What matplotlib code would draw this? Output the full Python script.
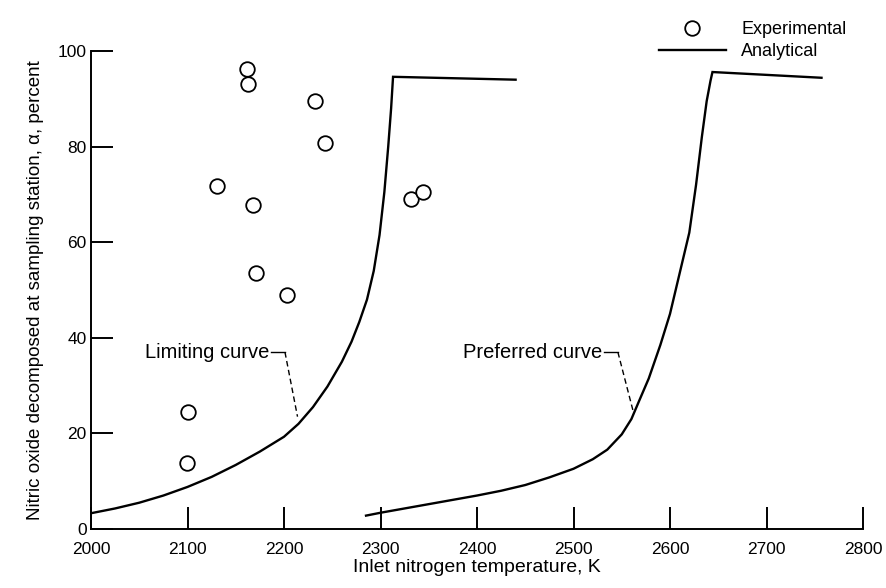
import matplotlib

matplotlib.use("Agg")
import matplotlib.pyplot as plt
from matplotlib.lines import Line2D

# Experimental points: inlet temperature (K) vs NO decomposed (percent)
exp_temp = [2162, 2163, 2131, 2168, 2171, 2203, 2232, 2243, 2332, 2344, 2100, 2099]
exp_alpha = [96.2, 93.1, 71.8, 67.8, 53.6, 49.0, 89.5, 80.8, 69.0, 70.5, 24.5, 13.8]

# Analytical curves
lim_temp = [2000, 2025, 2050, 2075, 2100, 2125, 2150, 2175, 2200, 2215, 2230, 2245,
            2260, 2270, 2278, 2286, 2293, 2299, 2304, 2308, 2311, 2313, 2440]
lim_alpha = [3.3, 4.3, 5.5, 7.0, 8.8, 10.9, 13.4, 16.2, 19.3, 22.0, 25.5, 29.8,
             35.0, 39.2, 43.3, 48.0, 54.0, 61.5, 70.5, 80.0, 88.0, 94.6, 94.0]

pref_temp = [2285, 2300, 2325, 2350, 2375, 2400, 2425, 2450, 2475, 2500, 2520, 2535,
             2550, 2560, 2568, 2578, 2590, 2600, 2610, 2620, 2627, 2633, 2638, 2642,
             2644, 2757]
pref_alpha = [2.8, 3.4, 4.3, 5.2, 6.1, 7.0, 8.0, 9.2, 10.8, 12.6, 14.6, 16.6,
              19.8, 23.0, 26.8, 31.5, 38.5, 45.0, 53.5, 62.0, 72.0, 82.0, 89.5, 93.8,
              95.6, 94.4]

x_ticks = [2000, 2100, 2200, 2300, 2400, 2500, 2600, 2700, 2800]
y_ticks = [0, 20, 40, 60, 80, 100]

TEXT = ["Liberation Sans", "DejaVu Sans"]

fig = plt.figure(figsize=(8.86, 5.88), dpi=100, facecolor="white")
ax = fig.add_axes([91 / 886, 1 - 529 / 588, (863 - 91) / 886, (529 - 51) / 588])

ax.plot(lim_temp, lim_alpha, color="black", lw=1.7, solid_joinstyle="miter")
ax.plot(pref_temp, pref_alpha, color="black", lw=1.7, solid_joinstyle="miter")
ax.plot(exp_temp, exp_alpha, "o", ms=10.5, mfc="white", mec="black", mew=1.3,
        linestyle="none", zorder=3)

ax.set_xlim(2000, 2800)
ax.set_ylim(0, 100)
ax.set_xticks(x_ticks)
ax.set_yticks(y_ticks)
for s in ("top", "right"):
    ax.spines[s].set_visible(False)
for s in ("left", "bottom"):
    ax.spines[s].set_linewidth(1.4)
ax.tick_params(direction="in", length=16, width=1.4, labelsize=12.5)
ax.tick_params(axis="x", pad=9)
ax.tick_params(axis="y", pad=3)
for lab in ax.get_xticklabels() + ax.get_yticklabels():
    lab.set_family(TEXT)

ax.set_xlabel("Inlet nitrogen temperature, K", fontsize=14, family=TEXT, labelpad=2)
ax.set_ylabel("Nitric oxide decomposed at sampling station, \u03b1, percent",
              fontsize=13.5, family=TEXT, labelpad=10)

# curve labels with dashed leaders
ax.text(2185, 37.0, "Limiting curve", fontsize=14.5, family=TEXT, ha="right", va="center")
ax.plot([2187, 2201], [37.0, 37.0], color="black", lw=1.0)
ax.plot([2201, 2214], [37.0, 23.5], color="black", lw=1.0, ls=(0, (4, 2.5)))

ax.text(2530, 37.0, "Preferred curve", fontsize=14.5, family=TEXT, ha="right", va="center")
ax.plot([2532, 2546], [37.0, 37.0], color="black", lw=1.0)
ax.plot([2546, 2562], [37.0, 24.5], color="black", lw=1.0, ls=(0, (4, 2.5)))

# legend above the plot, upper right
handles = [
    Line2D([], [], marker="o", ms=10.5, mfc="white", mec="black", mew=1.3, ls="none"),
    Line2D([], [], color="black", lw=1.7),
]
fig.legend(handles, ["Experimental", "Analytical"], loc="upper left",
           bbox_to_anchor=(650 / 886, 1 - 12 / 588), frameon=False,
           prop={"family": TEXT, "size": 13}, handlelength=3.7, handletextpad=0.85,
           borderpad=0, labelspacing=0.3)

fig.savefig("out.png", dpi=100, facecolor="white")
